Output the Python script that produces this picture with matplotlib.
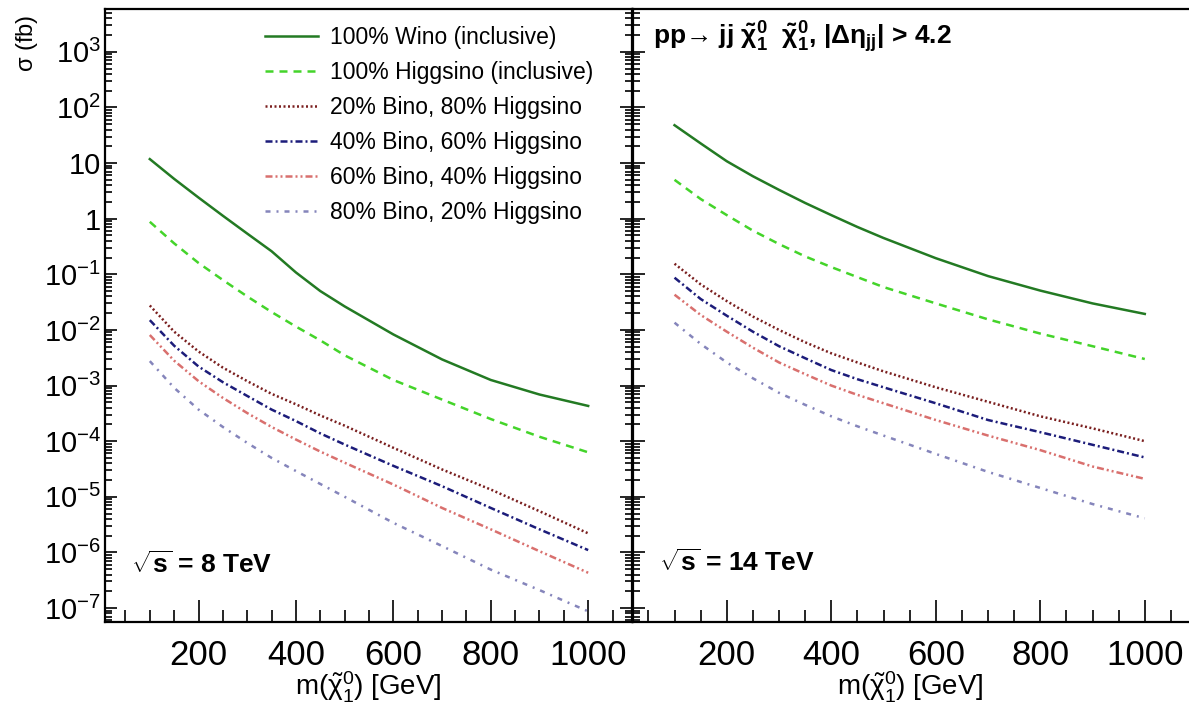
import numpy as np
import matplotlib
matplotlib.use("Agg")
import matplotlib.pyplot as plt
from matplotlib.ticker import MultipleLocator, FixedLocator, FuncFormatter, NullFormatter

plt.rcParams['font.family'] = ['Liberation Sans', 'DejaVu Sans']
plt.rcParams['mathtext.fontset'] = 'custom'
plt.rcParams['mathtext.rm'] = 'Liberation Sans'
plt.rcParams['mathtext.it'] = 'Liberation Sans:italic'
plt.rcParams['mathtext.bf'] = 'Liberation Sans:bold'
plt.rcParams['mathtext.default'] = 'regular'

# neutralino mass grid [GeV]
mass = [100, 150, 200, 250, 300, 350, 400, 450, 500, 600, 700, 800, 900, 1000]

# sqrt(s) = 8 TeV, cross sections [fb]
wino_8 = [11.8, 5.2, 2.4, 1.13, 0.54, 0.26, 0.108, 0.05, 0.0265, 8.3e-3, 2.95e-3, 1.26e-3, 6.9e-4, 4.3e-4]
higgsino_8 = [0.88, 0.36, 0.16, 0.079, 0.04, 0.021, 0.0115, 6.5e-3, 3.5e-3, 1.26e-3, 5.6e-4, 2.5e-4, 1.2e-4, 6.3e-5]
b20_8 = [0.0275, 9.3e-3, 4.1e-3, 2.1e-3, 1.2e-3, 7.1e-4, 4.6e-4, 2.9e-4, 1.9e-4, 7.6e-5, 3.1e-5, 1.35e-5, 5.5e-6, 2.2e-6]
b40_8 = [0.015, 5.2e-3, 2.2e-3, 1.15e-3, 6.5e-4, 3.7e-4, 2.3e-4, 1.38e-4, 8.7e-5, 3.6e-5, 1.55e-5, 6.3e-6, 2.6e-6, 1.1e-6]
b60_8 = [8.1e-3, 2.8e-3, 1.2e-3, 6.0e-4, 3.2e-4, 1.8e-4, 1.07e-4, 6.5e-5, 4.1e-5, 1.66e-5, 6.3e-6, 2.6e-6, 1.05e-6, 4.3e-7]
b80_8 = [2.75e-3, 9.1e-4, 3.7e-4, 1.8e-4, 9.3e-5, 5.0e-5, 2.9e-5, 1.7e-5, 1.0e-5, 3.4e-6, 1.3e-6, 4.9e-7, 2.1e-7, 8.7e-8]

# sqrt(s) = 14 TeV
wino_14 = [48.0, 22.6, 10.8, 5.8, 3.3, 1.92, 1.16, 0.71, 0.45, 0.195, 0.093, 0.051, 0.030, 0.0194]
higgsino_14 = [5.0, 2.26, 1.16, 0.61, 0.35, 0.21, 0.135, 0.089, 0.059, 0.030, 0.0155, 8.6e-3, 5.1e-3, 3.0e-3]
b20_14 = [0.155, 0.066, 0.033, 0.0174, 0.01, 6.0e-3, 3.8e-3, 2.6e-3, 1.8e-3, 9.3e-4, 5.1e-4, 2.8e-4, 1.7e-4, 1.0e-4]
b40_14 = [0.087, 0.036, 0.018, 9.3e-3, 5.1e-3, 3.1e-3, 1.9e-3, 1.3e-3, 9.3e-4, 4.8e-4, 2.4e-4, 1.45e-4, 8.6e-5, 5.1e-5]
b60_14 = [0.043, 0.0186, 9.3e-3, 4.8e-3, 2.6e-3, 1.6e-3, 1.0e-3, 6.8e-4, 4.8e-4, 2.4e-4, 1.26e-4, 6.9e-5, 3.5e-5, 2.1e-5]
b80_14 = [0.0135, 5.6e-3, 2.6e-3, 1.35e-3, 7.4e-4, 4.5e-4, 2.8e-4, 1.85e-4, 1.26e-4, 5.9e-5, 2.8e-5, 1.44e-5, 7.4e-6, 4.1e-6]

labels = ["100% Wino (inclusive)", "100% Higgsino (inclusive)",
          "20% Bino, 80% Higgsino", "40% Bino, 60% Higgsino",
          "60% Bino, 40% Higgsino", "80% Bino, 20% Higgsino"]
colors = ['#237a23', '#44d42a', '#7a1f1f', '#1c1c7a', '#d9706e', '#8585bb']
styles = ['-', (0, (3.2, 2.4)), (0, (0.8, 1.0)), (0, (2.8, 1.2, 0.8, 1.2)),
          (0, (2.8, 1.2, 0.8, 1.2, 0.8, 1.2)), (0, (2.0, 2.4, 0.8, 2.4))]

W, H = 1189, 704
fig = plt.figure(figsize=(W / 100, H / 100), dpi=100)
ax1 = fig.add_axes([105 / W, 82 / H, 527 / W, 613 / H])
ax2 = fig.add_axes([633 / W, 82 / H, 567 / W, 613 / H])

decades = [10.0 ** e for e in range(-7, 4)]
minors = [m * d for d in [1e-8] + decades for m in range(2, 10)]


def log_label(v, pos):
    e = int(round(np.log10(v)))
    if e == 0:
        return "1"
    if e == 1:
        return "10"
    return r"$10^{%d}$" % e


def style_axis(ax, right_ticks):
    ax.set_yscale('log')
    ax.set_ylim(5.6e-8, 5900)
    ax.xaxis.set_major_locator(MultipleLocator(200))
    ax.xaxis.set_minor_locator(MultipleLocator(50))
    ax.yaxis.set_major_locator(FixedLocator(decades))
    ax.yaxis.set_minor_locator(FixedLocator(minors))
    ax.yaxis.set_minor_formatter(NullFormatter())
    ax.tick_params(axis='x', which='both', direction='in', top=False, width=1.2)
    ax.tick_params(axis='x', which='major', length=16, pad=12, labelsize=25)
    ax.tick_params(axis='x', which='minor', length=8.5)
    ax.tick_params(axis='y', which='both', direction='in', right=right_ticks, width=1.2)
    ax.tick_params(axis='y', which='major', length=8.5, pad=3, labelsize=21)
    ax.tick_params(axis='y', which='minor', length=5)
    for s in ax.spines.values():
        s.set_linewidth(1.6)


series_8 = [wino_8, higgsino_8, b20_8, b40_8, b60_8, b80_8]
series_14 = [wino_14, higgsino_14, b20_14, b40_14, b60_14, b80_14]

for ax, series in [(ax1, series_8), (ax2, series_14)]:
    for y, lab, c, ls in zip(series, labels, colors, styles):
        ax.plot(mass, y, color=c, linestyle=ls, lw=1.8, label=lab)

style_axis(ax1, True)
style_axis(ax2, False)
ax1.set_xlim(8, 1090)
ax2.set_xlim(20.5, 1105.7)
ax1.yaxis.set_major_formatter(FuncFormatter(log_label))
ax2.yaxis.set_major_formatter(NullFormatter())
ax2.spines['right'].set_visible(False)

xlab = r"m($\tilde{\chi}^{0}_{1}$) [GeV]"
ax1.text(0.5, -0.107, xlab, transform=ax1.transAxes, ha='center', va='center', fontsize=20)
ax2.text(0.49, -0.107, xlab, transform=ax2.transAxes, ha='center', va='center', fontsize=20)
fig.text(27 / W, 1 - 15 / H, r"$\sigma$ (fb)", rotation=90, ha='center', va='top', fontsize=17)

ax1.text(0.05, 0.093, r"$\sqrt{\mathbf{s}}$ = 8 TeV", transform=ax1.transAxes,
         fontsize=19, fontweight='bold', va='center')
ax2.text(0.045, 0.097, r"$\sqrt{\mathbf{s}}$ = 14 TeV", transform=ax2.transAxes,
         fontsize=19, fontweight='bold', va='center')
ax2.text(0.035, 0.955,
         r"pp→ jj $\mathbf{\tilde{\chi}^{0}_{1}}$  $\mathbf{\tilde{\chi}^{0}_{1}}$, |$\mathbf{\Delta\eta_{jj}}$| > 4.2",
         transform=ax2.transAxes, fontsize=19, fontweight='bold', va='center')

ax1.legend(loc='upper left', bbox_to_anchor=(0.3036, 0.972), frameon=False, fontsize=16.5,
           handlelength=2.3, handletextpad=0.55, labelspacing=0.52, borderpad=0, borderaxespad=0)

fig.savefig("out.png", dpi=100)
